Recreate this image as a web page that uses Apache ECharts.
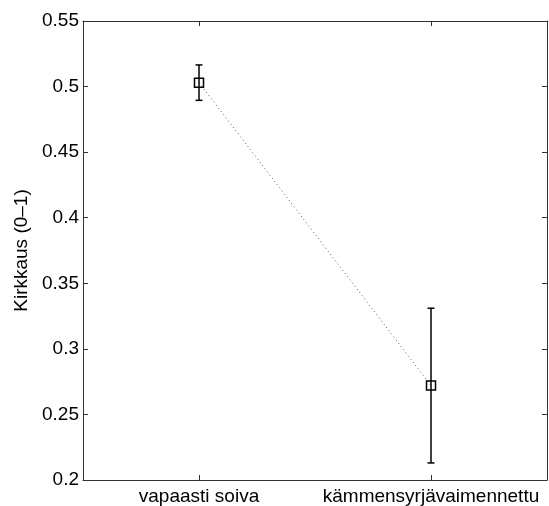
<!DOCTYPE html>
<html>
<head>
<meta charset="utf-8">
<script src="https://cdn.jsdelivr.net/npm/echarts@6/dist/echarts.min.js"></script>
<style>
  html, body { margin: 0; padding: 0; background: #fff; }
  #chart { width: 549px; height: 506px; }
</style>
</head>
<body>
<div id="chart"></div>
<script>
var categories = ['vapaasti soiva', 'kämmensyrjävaimennettu']
var means = [0.503, 0.272]
var errors = [0.0135, 0.059]
var yTicks = { min: 0.2, max: 0.55, interval: 0.05 }

var font = 'Liberation Sans, Arial, Helvetica, sans-serif'

var errorBarData = categories.map(function (c, i) {
  return [i, means[i] - errors[i], means[i] + errors[i]]
})

var renderErrorBar = function (params, api) {
  var lo = api.coord([api.value(0), api.value(1)])
  var hi = api.coord([api.value(0), api.value(2)])
  var cap = 3.5
  var style = { stroke: '#000', lineWidth: 1.5 }
  return {
    type: 'group',
    children: [
      { type: 'line', shape: { x1: lo[0], y1: lo[1], x2: hi[0], y2: hi[1] }, style: style },
      { type: 'line', shape: { x1: lo[0] - cap, y1: lo[1], x2: lo[0] + cap, y2: lo[1] }, style: style },
      { type: 'line', shape: { x1: hi[0] - cap, y1: hi[1], x2: hi[0] + cap, y2: hi[1] }, style: style }
    ]
  }
}

var axisLine = { show: true, lineStyle: { color: '#333', width: 1 } }
var axisTick = { show: true, inside: true, length: 5, lineStyle: { color: '#333' } }

var chart = echarts.init(document.getElementById('chart'))
chart.setOption({
  animation: false,
  textStyle: { fontFamily: font },
  grid: { left: 83, right: 2, top: 21, bottom: 25 },
  xAxis: [
    {
      type: 'category',
      data: categories,
      boundaryGap: true,
      axisLine: axisLine,
      axisTick: Object.assign({ alignWithLabel: true }, axisTick),
      axisLabel: { color: '#000', fontSize: 19, margin: 7, interval: 0, hideOverlap: false, fontFamily: font }
    },
    {
      type: 'category',
      position: 'top',
      data: categories,
      boundaryGap: true,
      axisLine: axisLine,
      axisTick: Object.assign({ alignWithLabel: true }, axisTick),
      axisLabel: { show: false }
    }
  ],
  yAxis: [
    {
      type: 'value',
      min: yTicks.min,
      max: yTicks.max,
      interval: yTicks.interval,
      name: 'Kirkkaus (0–1)',
      nameLocation: 'middle',
      nameGap: 48,
      nameTextStyle: { color: '#000', fontSize: 19, fontFamily: font },
      axisLine: axisLine,
      axisTick: axisTick,
      splitLine: { show: false },
      axisLabel: { color: '#000', fontSize: 19, margin: 4, fontFamily: font }
    },
    {
      type: 'value',
      position: 'right',
      min: yTicks.min,
      max: yTicks.max,
      interval: yTicks.interval,
      axisLine: axisLine,
      axisTick: axisTick,
      splitLine: { show: false },
      axisLabel: { show: false }
    }
  ],
  series: [
    {
      type: 'line',
      data: means,
      symbol: 'none',
      lineStyle: { color: '#555', width: 1, type: [1, 3] },
      z: 1
    },
    {
      type: 'custom',
      data: errorBarData,
      renderItem: renderErrorBar,
      z: 2
    },
    {
      type: 'scatter',
      data: means,
      symbol: 'rect',
      symbolSize: 9,
      itemStyle: { color: 'rgba(0,0,0,0)', borderColor: '#000', borderWidth: 1.5, opacity: 1 },
      z: 3
    }
  ]
})
</script>
</body>
</html>
